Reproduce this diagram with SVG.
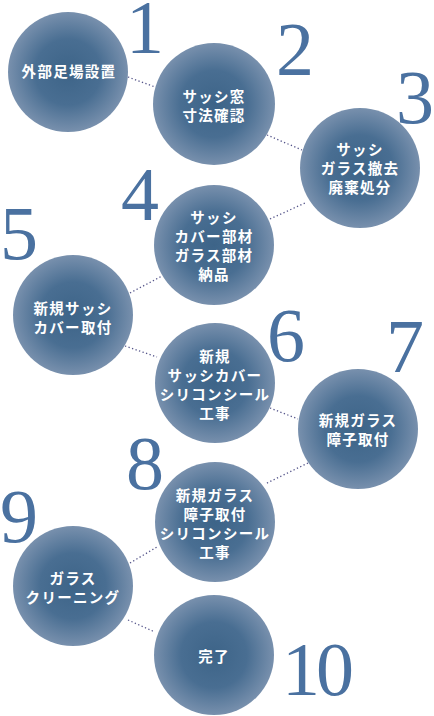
<svg xmlns="http://www.w3.org/2000/svg" width="434" height="716" viewBox="0 0 434 716">
<defs>
<radialGradient id="g" cx="50%" cy="50%" r="50%">
<stop offset="0" stop-color="#3d6488"/>
<stop offset="0.55" stop-color="#496e92"/>
<stop offset="1" stop-color="#7890ad"/>
</radialGradient>
<style>
.c{fill:url(#g);}
.t{fill:#ffffff;font-family:"Noto Sans CJK JP","Noto Sans",sans-serif;font-weight:bold;font-size:14.5px;letter-spacing:1.3px;text-anchor:middle;dominant-baseline:central;}
.n{fill:#4a71a0;font-family:"Liberation Serif","Times New Roman",serif;font-size:76px;text-anchor:middle;}
.k{stroke:#55558a;stroke-width:1.3;stroke-dasharray:1.3 2.4;fill:none;}
</style>
</defs>
<rect width="434" height="716" fill="#ffffff"/>
<g id="connectors">
<line class="k" x1="128" y1="77" x2="155" y2="87"/>
<line class="k" x1="267" y1="135" x2="302" y2="150"/>
<line class="k" x1="270" y1="219" x2="305" y2="203"/>
<line class="k" x1="130" y1="293" x2="162" y2="276"/>
<line class="k" x1="125" y1="346" x2="157" y2="357"/>
<line class="k" x1="270" y1="408" x2="298" y2="419"/>
<line class="k" x1="308" y1="463" x2="265" y2="484"/>
<line class="k" x1="130" y1="563" x2="157" y2="547"/>
<line class="k" x1="128" y1="620" x2="155" y2="632"/>
</g>
<g id="node1">
<circle class="c" cx="68" cy="72" r="60"/>
<text class="t" x="69" y="70">外部足場設置</text>
<text class="n" x="145" y="53">1</text>
</g>
<g id="node2">
<circle class="c" cx="214" cy="104" r="61"/>
<text class="t" x="214" y="95">サッシ窓</text>
<text class="t" x="214" y="114">寸法確認</text>
<text class="n" x="295" y="75">2</text>
</g>
<g id="node3">
<circle class="c" cx="360" cy="168" r="60"/>
<text class="t" x="360" y="148">サッシ</text>
<text class="t" x="360" y="167">ガラス撤去</text>
<text class="t" x="360" y="186">廃棄処分</text>
<text class="n" x="415" y="123">3</text>
</g>
<g id="node4">
<circle class="c" cx="214" cy="245" r="60"/>
<text class="t" x="214" y="216">サッシ</text>
<text class="t" x="214" y="235">カバー部材</text>
<text class="t" x="214" y="254">ガラス部材</text>
<text class="t" x="214" y="273">納品</text>
<text class="n" x="140" y="220">4</text>
</g>
<g id="node5">
<circle class="c" cx="73" cy="315" r="60"/>
<text class="t" x="73" y="307">新規サッシ</text>
<text class="t" x="73" y="326">カバー取付</text>
<text class="n" x="19" y="259">5</text>
</g>
<g id="node6">
<circle class="c" cx="215" cy="383" r="60"/>
<text class="t" x="215" y="355">新規</text>
<text class="t" x="215" y="374">サッシカバー</text>
<text class="t" x="215" y="393">シリコンシール</text>
<text class="t" x="215" y="412">工事</text>
<text class="n" x="286" y="361">6</text>
</g>
<g id="node7">
<circle class="c" cx="358" cy="429" r="60"/>
<text class="t" x="358" y="419">新規ガラス</text>
<text class="t" x="358" y="438">障子取付</text>
<text class="n" x="405" y="372">7</text>
</g>
<g id="node8">
<circle class="c" cx="215" cy="522" r="60"/>
<text class="t" x="215" y="494">新規ガラス</text>
<text class="t" x="215" y="513">障子取付</text>
<text class="t" x="215" y="532">シリコンシール</text>
<text class="t" x="215" y="551">工事</text>
<text class="n" x="145" y="489">8</text>
</g>
<g id="node9">
<circle class="c" cx="73" cy="586" r="60"/>
<text class="t" x="73" y="577">ガラス</text>
<text class="t" x="73" y="596">クリーニング</text>
<text class="n" x="19" y="542">9</text>
</g>
<g id="node10">
<circle class="c" cx="214" cy="655" r="60"/>
<text class="t" x="214" y="655">完了</text>
<text class="n" x="316" y="695" letter-spacing="-4">10</text>
</g>
</svg>
